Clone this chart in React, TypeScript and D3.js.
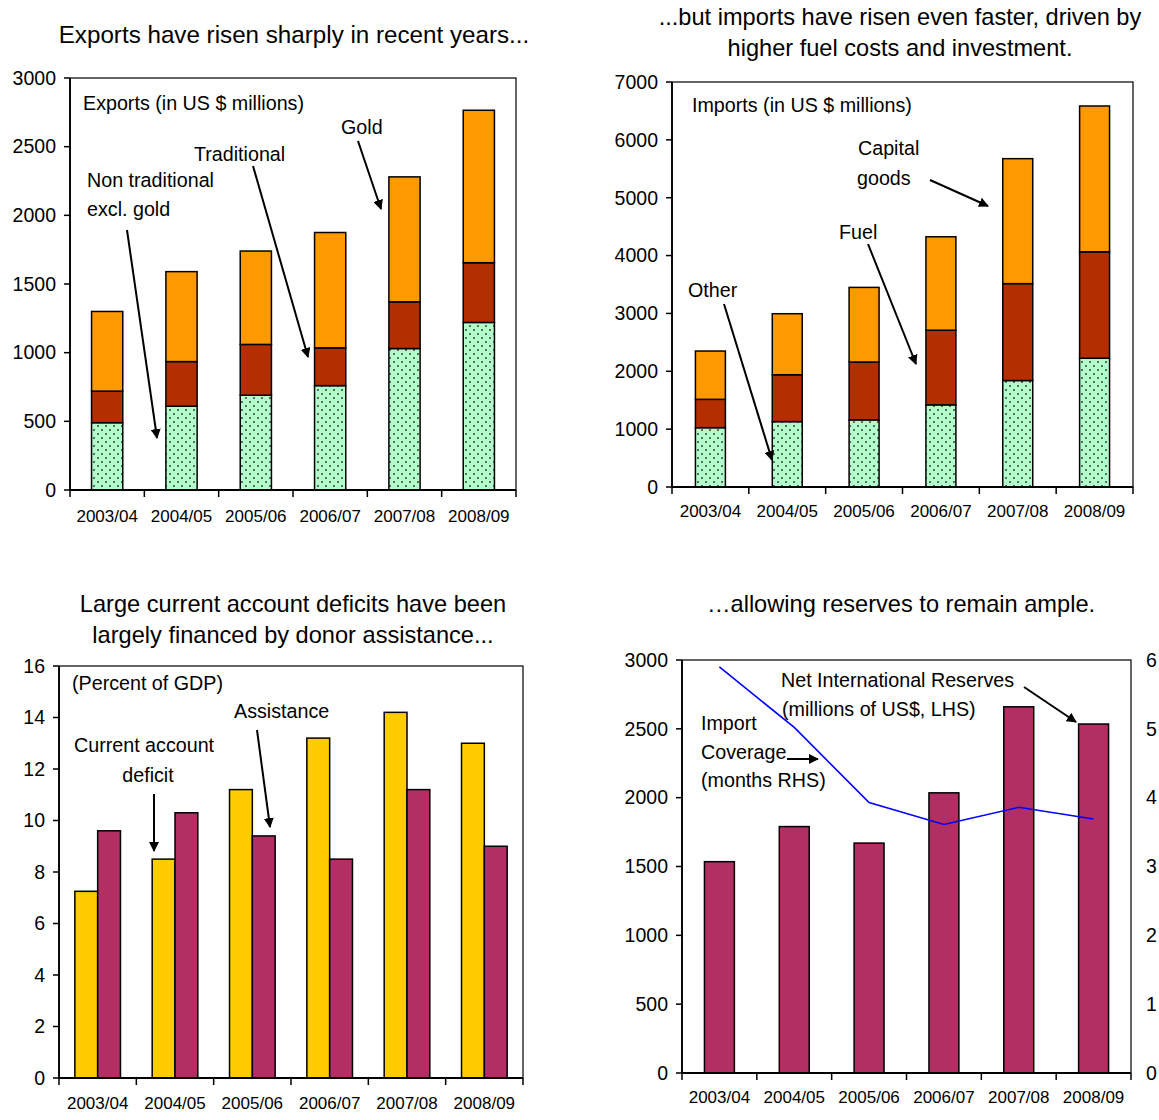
import React from "react";
import * as d3 from "d3";

const categories = ["2003/04", "2004/05", "2005/06", "2006/07", "2007/08", "2008/09"];

// Exports, US$ millions
const exportsNonTraditional = [490, 610, 690, 760, 1030, 1220];
const exportsTraditional = [230, 325, 370, 275, 340, 435];
const exportsGold = [580, 655, 680, 840, 910, 1110];
const exportTicks = [0, 500, 1000, 1500, 2000, 2500, 3000];

// Imports, US$ millions
const importsOther = [1025, 1130, 1160, 1420, 1840, 2225];
const importsFuel = [490, 810, 1000, 1290, 1675, 1840];
const importsCapital = [835, 1055, 1290, 1615, 2160, 2520];
const importTicks = [0, 1000, 2000, 3000, 4000, 5000, 6000, 7000];

// Percent of GDP
const currentAccountDeficit = [7.25, 8.5, 11.2, 13.2, 14.2, 13.0];
const donorAssistance = [9.6, 10.3, 9.4, 8.5, 11.2, 9.0];
const gdpTicks = [0, 2, 4, 6, 8, 10, 12, 14, 16];

// Net international reserves (US$ millions) and import coverage (months)
const netReserves = [1535, 1790, 1670, 2035, 2660, 2535];
const importCoverage = [5.9, 5.02, 3.93, 3.61, 3.86, 3.69];
const reserveTicks = [0, 500, 1000, 1500, 2000, 2500, 3000];
const coverageTicks = [0, 1, 2, 3, 4, 5, 6];

const FONT = "'Liberation Sans', Arial, Helvetica, sans-serif";
const GREEN = "#B3FFCC";
const RED = "#B32F00";
const ORANGE = "#FF9900";
const YELLOW = "#FFCC00";
const PURPLE = "#B12F63";
const TITLE_SIZE = 23.6;
const NOTE_SIZE = 19.7;

type Box = { x0: number; x1: number; top: number; bottom: number };

function Axes({
  box,
  y,
  ticks,
  band,
  labelY,
}: {
  box: Box;
  y: d3.ScaleLinear<number, number>;
  ticks: number[];
  band: d3.ScaleBand<string>;
  labelY: number;
}) {
  const bounds = [...categories.map((c) => band(c) as number), box.x1];
  return (
    <g>
      <rect
        x={box.x0}
        y={box.top}
        width={box.x1 - box.x0}
        height={box.bottom - box.top}
        fill="none"
        stroke="#000"
        strokeWidth={1.2}
      />
      <line x1={box.x0} x2={box.x0} y1={box.top} y2={box.bottom} stroke="#000" strokeWidth={1.8} />
      <line x1={box.x0} x2={box.x1} y1={box.bottom} y2={box.bottom} stroke="#000" strokeWidth={1.8} />
      {ticks.map((t) => (
        <g key={t}>
          <line x1={box.x0 - 6} x2={box.x0} y1={y(t)} y2={y(t)} stroke="#000" strokeWidth={1.5} />
          <text
            x={box.x0 - 14}
            y={y(t)}
            dy="0.35em"
            textAnchor="end"
            fontSize={19.5}
            fontFamily={FONT}
            fill="#000"
          >
            {t}
          </text>
        </g>
      ))}
      {bounds.map((b, i) => (
        <line key={i} x1={b} x2={b} y1={box.bottom} y2={box.bottom + 7} stroke="#000" strokeWidth={1.5} />
      ))}
      {categories.map((c) => (
        <text
          key={c}
          x={(band(c) as number) + band.bandwidth() / 2}
          y={labelY}
          dy="0.35em"
          textAnchor="middle"
          fontSize={17}
          fontFamily={FONT}
          fill="#000"
        >
          {c}
        </text>
      ))}
    </g>
  );
}

function Label({ x, y, children, anchor = "start", size = NOTE_SIZE }: any) {
  return (
    <text x={x} y={y} dy="0.35em" textAnchor={anchor} fontSize={size} fontFamily={FONT} fill="#000">
      {children}
    </text>
  );
}

function Arrow({ x1, y1, x2, y2 }: { x1: number; y1: number; x2: number; y2: number }) {
  return <line x1={x1} y1={y1} x2={x2} y2={y2} stroke="#000" strokeWidth={2} markerEnd="url(#arrowhead)" />;
}

function StackedPanel({
  box,
  max,
  ticks,
  layers,
  barRatio,
  labelY,
}: {
  box: Box;
  max: number;
  ticks: number[];
  layers: number[][];
  barRatio: number;
  labelY: number;
}) {
  const band = d3.scaleBand<string>().domain(categories).range([box.x0, box.x1]).padding(0);
  const y = d3.scaleLinear().domain([0, max]).range([box.bottom, box.top]);
  const rows = categories.map((c, i) => ({ c, a: layers[0][i], b: layers[1][i], g: layers[2][i] }));
  const series = d3.stack<any>().keys(["a", "b", "g"])(rows);
  const fills = ["url(#dots)", RED, ORANGE];
  const w = band.bandwidth() * barRatio;
  return (
    <g>
      {series.map((s, k) => (
        <g key={k}>
          {s.map((d, i) => (
            <rect
              key={i}
              x={(band(categories[i]) as number) + band.bandwidth() / 2 - w / 2}
              y={y(d[1])}
              width={w}
              height={y(d[0]) - y(d[1])}
              fill={fills[k]}
              stroke="#000"
              strokeWidth={1.5}
            />
          ))}
        </g>
      ))}
      <Axes box={box} y={y} ticks={ticks} band={band} labelY={labelY} />
    </g>
  );
}

function DeficitPanel({ box }: { box: Box }) {
  const band = d3.scaleBand<string>().domain(categories).range([box.x0, box.x1]).padding(0);
  const y = d3.scaleLinear().domain([0, 16]).range([box.bottom, box.top]);
  const groupWidth = band.bandwidth() * 0.59;
  const inner = d3.scaleBand<string>().domain(["deficit", "assistance"]).range([0, groupWidth]).padding(0);
  const offset = (band.bandwidth() - groupWidth) / 2;
  return (
    <g>
      {categories.map((c, i) => (
        <g key={c}>
          <rect
            x={(band(c) as number) + offset + (inner("deficit") as number)}
            y={y(currentAccountDeficit[i])}
            width={inner.bandwidth()}
            height={y(0) - y(currentAccountDeficit[i])}
            fill={YELLOW}
            stroke="#000"
            strokeWidth={1.5}
          />
          <rect
            x={(band(c) as number) + offset + (inner("assistance") as number)}
            y={y(donorAssistance[i])}
            width={inner.bandwidth()}
            height={y(0) - y(donorAssistance[i])}
            fill={PURPLE}
            stroke="#000"
            strokeWidth={1.5}
          />
        </g>
      ))}
      <Axes box={box} y={y} ticks={gdpTicks} band={band} labelY={1103} />
    </g>
  );
}

function ReservesPanel({ box }: { box: Box }) {
  const band = d3.scaleBand<string>().domain(categories).range([box.x0, box.x1]).padding(0);
  const y = d3.scaleLinear().domain([0, 3000]).range([box.bottom, box.top]);
  const y2 = d3.scaleLinear().domain([0, 6]).range([box.bottom, box.top]);
  const w = band.bandwidth() * 0.4;
  const line = d3
    .line<number>()
    .x((_, i) => (band(categories[i]) as number) + band.bandwidth() / 2)
    .y((d) => y2(d));
  return (
    <g>
      {categories.map((c, i) => (
        <rect
          key={c}
          x={(band(c) as number) + band.bandwidth() / 2 - w / 2}
          y={y(netReserves[i])}
          width={w}
          height={y(0) - y(netReserves[i])}
          fill={PURPLE}
          stroke="#000"
          strokeWidth={1.5}
        />
      ))}
      <path d={line(importCoverage) as string} fill="none" stroke="#0000FF" strokeWidth={1.6} />
      <Axes box={box} y={y} ticks={reserveTicks} band={band} labelY={1097} />
      {coverageTicks.map((t) => (
        <text key={t} x={box.x1 + 15} y={y2(t)} dy="0.35em" fontSize={19.5} fontFamily={FONT} fill="#000">
          {t}
        </text>
      ))}
    </g>
  );
}

export default function App() {
  const p1: Box = { x0: 70, x1: 516, top: 78, bottom: 490 };
  const p2: Box = { x0: 672, x1: 1133, top: 82, bottom: 487 };
  const p3: Box = { x0: 59, x1: 523, top: 666, bottom: 1078 };
  const p4: Box = { x0: 682, x1: 1131, top: 660, bottom: 1073 };
  return (
    <div style={{ position: "absolute", left: 0, top: 0 }}>
      <svg width={1159} height={1120} style={{ display: "block", background: "#fff" }}>
        <defs>
          <pattern id="dots" width={8} height={8} patternUnits="userSpaceOnUse">
            <rect width={8} height={8} fill={GREEN} />
            <circle cx={2} cy={2} r={0.95} fill="#333" />
            <circle cx={6} cy={6} r={0.95} fill="#333" />
          </pattern>
          <marker
            id="arrowhead"
            viewBox="0 0 10 10"
            refX={9}
            refY={5}
            markerWidth={5}
            markerHeight={5}
            orient="auto"
            markerUnits="strokeWidth"
          >
            <path d="M0,0 L10,5 L0,10 z" fill="#000" />
          </marker>
        </defs>

        {/* Exports */}
        <Label x={294} y={35} anchor="middle" size={TITLE_SIZE + 0.6}>
          Exports have risen sharply in recent years...
        </Label>
        <StackedPanel
          box={p1}
          max={3000}
          ticks={exportTicks}
          layers={[exportsNonTraditional, exportsTraditional, exportsGold]}
          barRatio={0.42}
          labelY={516}
        />
        <Label x={83} y={103}>Exports (in US $ millions)</Label>
        <Label x={341} y={127}>Gold</Label>
        <Label x={194} y={154}>Traditional</Label>
        <Label x={87} y={180}>Non traditional</Label>
        <Label x={87} y={209}>excl. gold</Label>
        <Arrow x1={358} y1={141} x2={381} y2={209} />
        <Arrow x1={253} y1={166} x2={308} y2={357} />
        <Arrow x1={127} y1={230} x2={157} y2={438} />

        {/* Imports */}
        <Label x={900} y={17} anchor="middle" size={TITLE_SIZE}>
          ...but imports have risen even faster, driven by
        </Label>
        <Label x={900} y={48} anchor="middle" size={TITLE_SIZE}>
          higher fuel costs and investment.
        </Label>
        <StackedPanel
          box={p2}
          max={7000}
          ticks={importTicks}
          layers={[importsOther, importsFuel, importsCapital]}
          barRatio={0.39}
          labelY={511}
        />
        <Label x={692} y={105}>Imports (in US $ millions)</Label>
        <Label x={858} y={148}>Capital</Label>
        <Label x={857} y={178}>goods</Label>
        <Label x={839} y={232}>Fuel</Label>
        <Label x={688} y={290}>Other</Label>
        <Arrow x1={930} y1={180} x2={988} y2={206} />
        <Arrow x1={868} y1={244} x2={916} y2={364} />
        <Arrow x1={724} y1={304} x2={772} y2={460} />

        {/* Current account and assistance */}
        <Label x={293} y={604} anchor="middle" size={TITLE_SIZE}>
          Large current account deficits have been
        </Label>
        <Label x={293} y={635} anchor="middle" size={TITLE_SIZE}>
          largely financed by donor assistance...
        </Label>
        <DeficitPanel box={p3} />
        <Label x={72} y={683}>(Percent of GDP)</Label>
        <Label x={234} y={711}>Assistance</Label>
        <Label x={74} y={745}>Current account</Label>
        <Label x={148} y={775} anchor="middle">deficit</Label>
        <Arrow x1={257} y1={730} x2={270} y2={827} />
        <Arrow x1={154} y1={794} x2={154} y2={851} />

        {/* Reserves */}
        <Label x={901} y={604} anchor="middle" size={TITLE_SIZE}>
          …allowing reserves to remain ample.
        </Label>
        <ReservesPanel box={p4} />
        <Label x={781} y={680}>Net International Reserves</Label>
        <Label x={782} y={709}>(millions of US$, LHS)</Label>
        <Label x={701} y={723}>Import</Label>
        <Label x={701} y={752}>Coverage</Label>
        <Label x={701} y={780}>(months RHS)</Label>
        <Arrow x1={1024} y1={687} x2={1076} y2={722} />
        <Arrow x1={787} y1={759} x2={818} y2={759} />
      </svg>
    </div>
  );
}
